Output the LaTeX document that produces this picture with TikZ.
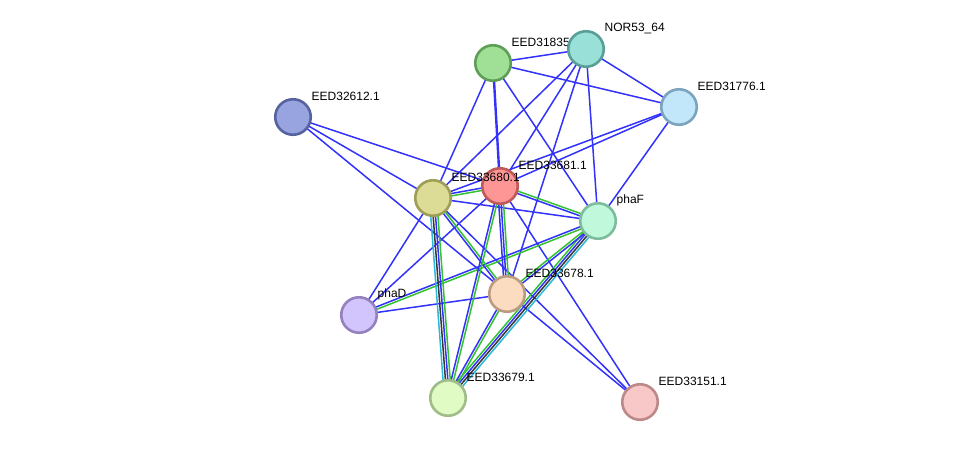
\documentclass[tikz,border=0pt]{standalone}
\usepackage{fontspec}
\setmainfont{Liberation Sans}
\usetikzlibrary{calc}
\pgfdeclarelayer{bg}
\pgfsetlayers{bg,main}
\definecolor{eblue}{RGB}{50,50,250}
\definecolor{egreen}{RGB}{50,195,50}
\definecolor{eblack}{RGB}{55,55,55}
\definecolor{ecyan}{RGB}{40,185,220}
\definecolor{fA}{RGB}{160,224,150}\definecolor{bA}{RGB}{94,158,86}
\definecolor{fB}{RGB}{152,224,216}\definecolor{bB}{RGB}{90,158,152}
\definecolor{fC}{RGB}{194,230,250}\definecolor{bC}{RGB}{124,164,190}
\definecolor{fD}{RGB}{152,164,224}\definecolor{bD}{RGB}{86,99,158}
\definecolor{fE}{RGB}{255,150,150}\definecolor{bE}{RGB}{192,90,90}
\definecolor{fF}{RGB}{220,220,150}\definecolor{bF}{RGB}{158,158,86}
\definecolor{fG}{RGB}{192,248,220}\definecolor{bG}{RGB}{126,188,158}
\definecolor{fH}{RGB}{252,220,192}\definecolor{bH}{RGB}{188,156,128}
\definecolor{fI}{RGB}{210,196,252}\definecolor{bI}{RGB}{148,130,190}
\definecolor{fJ}{RGB}{224,252,196}\definecolor{bJ}{RGB}{160,188,136}
\definecolor{fK}{RGB}{248,200,200}\definecolor{bK}{RGB}{188,136,136}
\newcommand{\medge}[3]{%
  \foreach \c [count=\i] in {#3} {\xdef\nn{\i}}%
  \foreach \c [count=\i] in {#3} {%
    \pgfmathsetmacro\off{(\i-(\nn+1)/2)*2.4}%
    \draw[edge,\c] ($(#1.center)!\off pt!90:(#2.center)$) -- ($(#2.center)!\off pt!-90:(#1.center)$);%
  }}
\begin{document}
\begin{tikzpicture}[x=1pt,y=-1pt,
  prot/.style n args={2}{circle, fill=#1, draw=#2, line width=2.6pt, minimum size=35.5pt, inner sep=0pt},
  lbl/.style={anchor=west, font=\fontsize{12}{14}\selectfont, inner sep=0.5pt, text=black},
  edge/.style={line width=1.5pt}]
\useasboundingbox (0,0) rectangle (976,448);
\begin{pgfonlayer}{bg}
\fill[white] (0,0) rectangle (976,448);
\end{pgfonlayer}

% nodes and labels
\node[prot={fA}{bA}] (n31835) at (493,63) {};
\node[lbl] (l31835) at ($(n31835)+(18,-21)$) {EED31835.1};
\node[prot={fB}{bB}] (nor) at (586,49) {};
\node[lbl] (lnor) at ($(nor)+(18,-21)$) {NOR53\_64};
\node[prot={fC}{bC}] (n31776) at (679,107) {};
\node[lbl] (l31776) at ($(n31776)+(18,-21)$) {EED31776.1};
\node[prot={fD}{bD}] (n32612) at (293,117) {};
\node[lbl] (l32612) at ($(n32612)+(18,-21)$) {EED32612.1};
\node[prot={fE}{bE}] (n33681) at (500,186) {};
\node[lbl] (l33681) at ($(n33681)+(18,-21)$) {EED33681.1};
\node[prot={fF}{bF}] (n33680) at (433,198) {};
\node[lbl] (l33680) at ($(n33680)+(18,-21)$) {EED33680.1};
\node[prot={fG}{bG}] (phaF) at (598,221) {};
\node[lbl] (lphaF) at ($(phaF)+(18,-21)$) {phaF};
\node[prot={fH}{bH}] (n33678) at (507,294) {};
\node[lbl] (l33678) at ($(n33678)+(18,-21)$) {EED33678.1};
\node[prot={fI}{bI}] (phaD) at (359,315) {};
\node[lbl] (lphaD) at ($(phaD)+(18,-21)$) {phaD};
\node[prot={fJ}{bJ}] (n33679) at (448,398) {};
\node[lbl] (l33679) at ($(n33679)+(18,-21)$) {EED33679.1};
\node[prot={fK}{bK}] (n33151) at (640,402) {};
\node[lbl] (l33151) at ($(n33151)+(18,-21)$) {EED33151.1};

\begin{pgfonlayer}{bg}
% single blue edges
\foreach \a/\b in {n31835/nor, n31835/n31776, n31835/n33680, n31835/phaF,
  nor/n31776, nor/n33680, nor/n33681, nor/n33678, nor/phaF,
  n31776/n33680, n31776/n33681, n31776/phaF,
  n32612/n33681, n32612/n33680, n32612/n33151,
  n33680/phaF, n33680/phaD, n33681/phaD, phaD/n33678,
  n33680/n33151, n33681/n33151}
  {\draw[edge,eblue] (\a.center) -- (\b.center);}
\draw[eblue,line width=2.4pt] (n31835.center) -- (n33681.center);
% multi-evidence edges
\medge{n33680}{n33681}{egreen,eblue}
\medge{n33681}{phaF}{eblue,egreen}
\medge{phaD}{phaF}{egreen,eblue}
\medge{n33680}{n33678}{eblue,egreen}
\medge{n33681}{n33678}{eblue,eblue,egreen}
\medge{n33681}{n33679}{eblue,egreen}
\medge{n33680}{n33679}{ecyan,eblack,eblue,egreen}
\medge{phaF}{n33679}{egreen,eblue,eblack,ecyan}
\medge{phaF}{n33678}{egreen,eblue}
\medge{n33678}{n33679}{eblue,egreen}
\end{pgfonlayer}
\end{tikzpicture}
\end{document}
